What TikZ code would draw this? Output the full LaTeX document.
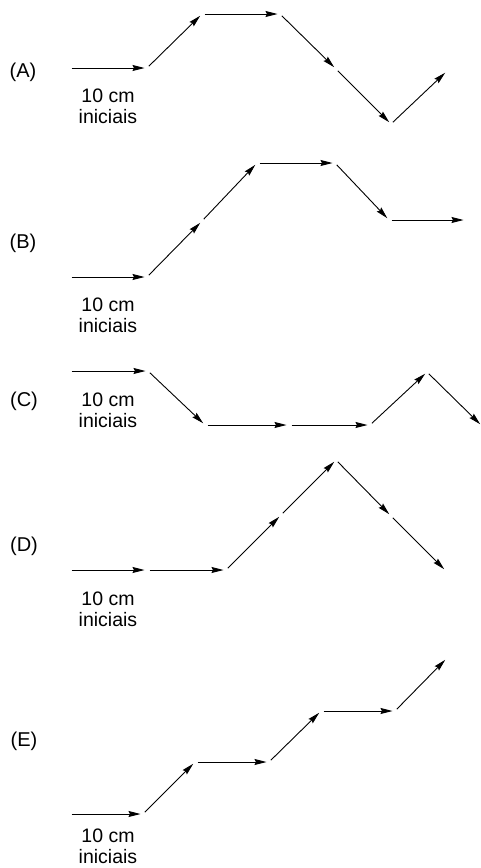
\documentclass[tikz,border=0pt]{standalone}
\usepackage{fontspec}
\setmainfont{Liberation Sans}
\usetikzlibrary{arrows.meta}

\begin{document}
\begin{tikzpicture}[
    x=1pt, y=-1pt,
    vec/.style={
        -{Stealth[length=12pt,width=6pt,inset=1.5pt]},
        line width=0.9pt,
        shorten <=2.5pt,
        shorten >=2.5pt
    },
    row label/.style={font=\fontsize{20}{24}\selectfont, anchor=base, inner sep=0pt},
    start label/.style={font=\fontsize{19.5}{20.5}\selectfont, align=center, anchor=base, inner sep=0pt}
]
\useasboundingbox (0,0) rectangle (480,868);

% === ROW A ===
\node[row label] (lblA) at (23,77) {(A)};
\node[start label] (iniA) at (108,123) {10 cm\\iniciais};
\coordinate (a0) at (69,68);
\coordinate (a1) at (147,68);
\coordinate (a2) at (202,14);
\coordinate (a3) at (280,14);
\coordinate (a4) at (336,69);
\coordinate (a5) at (391,124);
\coordinate (a6) at (447,71);
\draw[vec] (a0) -- (a1);
\draw[vec] (a1) -- (a2);
\draw[vec] (a2) -- (a3);
\draw[vec] (a3) -- (a4);
\draw[vec] (a4) -- (a5);
\draw[vec] (a5) -- (a6);

% === ROW B ===
\node[row label] (lblB) at (23,248) {(B)};
\node[start label] (iniB) at (108,332) {10 cm\\iniciais};
\coordinate (b0) at (69,277);
\coordinate (b1) at (147,277);
\coordinate (b2) at (202,221);
\coordinate (b3) at (257,163);
\coordinate (b4) at (335,163);
\coordinate (b5) at (389,220);
\coordinate (b6) at (466,220);
\draw[vec] (b0) -- (b1);
\draw[vec] (b1) -- (b2);
\draw[vec] (b2) -- (b3);
\draw[vec] (b3) -- (b4);
\draw[vec] (b4) -- (b5);
\draw[vec] (b5) -- (b6);

% === ROW C ===
\node[row label] (lblC) at (24,406) {(C)};
\node[start label] (iniC) at (108,427) {10 cm\\iniciais};
\coordinate (c0) at (69,371);
\coordinate (c1) at (148,371);
\coordinate (c2) at (205,425);
\coordinate (c3) at (289,425);
\coordinate (c4) at (370,425);
\coordinate (c5) at (427,372);
\coordinate (c6) at (482,426);
\draw[vec] (c0) -- (c1);
\draw[vec] (c1) -- (c2);
\draw[vec] (c2) -- (c3);
\draw[vec] (c3) -- (c4);
\draw[vec] (c4) -- (c5);
\draw[vec] (c5) -- (c6);

% === ROW D ===
\node[row label] (lblD) at (24,551) {(D)};
\node[start label] (iniD) at (108,626) {10 cm\\iniciais};
\coordinate (d0) at (69,570);
\coordinate (d1) at (147,570);
\coordinate (d2) at (226,570);
\coordinate (d3) at (281,515);
\coordinate (d4) at (336,460);
\coordinate (d5) at (391,516);
\coordinate (d6) at (446,571);
\draw[vec] (d0) -- (d1);
\draw[vec] (d1) -- (d2);
\draw[vec] (d2) -- (d3);
\draw[vec] (d3) -- (d4);
\draw[vec] (d4) -- (d5);
\draw[vec] (d5) -- (d6);

% === ROW E ===
\node[row label] (lblE) at (24,746) {(E)};
\node[start label] (iniE) at (108,863) {10 cm\\iniciais};
\coordinate (e0) at (69,814);
\coordinate (e1) at (143,814);
\coordinate (e2) at (195,762);
\coordinate (e3) at (269,762);
\coordinate (e4) at (321,711);
\coordinate (e5) at (395,711);
\coordinate (e6) at (447,658);
\draw[vec] (e0) -- (e1);
\draw[vec] (e1) -- (e2);
\draw[vec] (e2) -- (e3);
\draw[vec] (e3) -- (e4);
\draw[vec] (e4) -- (e5);
\draw[vec] (e5) -- (e6);

\end{tikzpicture}
\end{document}
